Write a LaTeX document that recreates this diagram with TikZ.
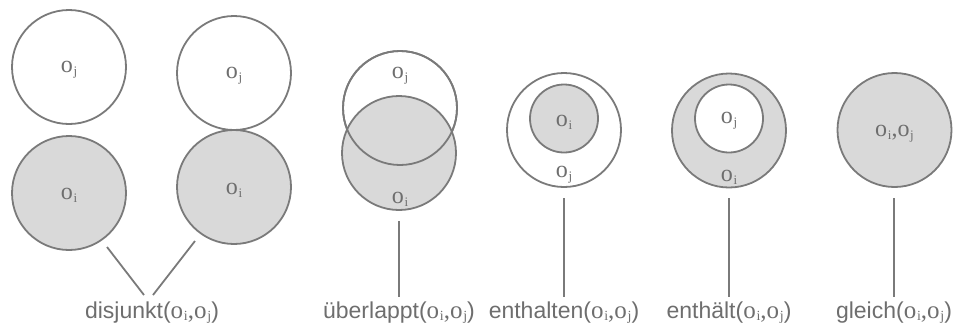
\documentclass[tikz,border=0pt]{standalone}
\usepackage{fontspec}
\setmainfont{Liberation Sans}
\newfontfamily\serifo{Liberation Serif}
\definecolor{strk}{HTML}{7A7A7A}
\definecolor{fillg}{HTML}{D9D9D9}
\definecolor{txt}{HTML}{6E6E6E}
% o with subscript, inside circles
\newcommand\ox[1]{{\serifo\fontsize{24}{24}\selectfont o\kern0.03em\raisebox{-0.12em}{\fontsize{13}{13}\selectfont #1}}}
% pair for relation labels
\newcommand\oxs[1]{o\kern0.03em\raisebox{-0.1em}{\fontsize{14}{14}\selectfont #1}}
\newcommand\opair{{\serifo\fontsize{25}{25}\selectfont\oxs{i},\oxs{j}}}
\begin{document}
\begin{tikzpicture}[x=1pt,y=-1pt,
  circ/.style={circle, draw=strk, line width=1.8pt, minimum size=114pt, inner sep=0pt, fill=white},
  small/.style={circle, draw=strk, line width=1.8pt, minimum size=68pt, inner sep=0pt},
  filled/.style={fill=fillg},
  olab/.style={text=txt, inner sep=0pt, font=\serifo\fontsize{24}{24}\selectfont},
  rlab/.style={text=txt, inner sep=0pt, anchor=base, font=\fontsize{23}{27}\selectfont},
  conn/.style={draw=strk, line width=1.8pt}]
\useasboundingbox (0,0) rectangle (954,333);
% disjunkt
\node[circ] (d1j) at (69,67) {};
\node[circ,filled] (d1i) at (69,193) {};
\node[circ] (d2j) at (234,73) {};
\node[circ,filled] (d2i) at (234,187) {};
\node[olab] (d1jl) at (69,70) {\ox{j}};
\node[olab] (d1il) at (69,195) {\ox{i}};
\node[olab] (d2jl) at (234,76) {\ox{j}};
\node[olab] (d2il) at (234,190) {\ox{i}};
% ueberlappt
\node[circ] (ovj) at (400,108) {};
\node[circ,filled] (ovi) at (399,153) {};
\node[circ,fill=none] (ovjo) at (400,108) {};
\node[olab] (ovjl) at (400,76) {\ox{j}};
\node[olab] (ovil) at (400,199) {\ox{i}};
% enthalten
\node[circ] (e1j) at (564,130) {};
\node[small,filled] (e1i) at (564,118.5) {};
\node[olab] (e1il) at (564,122) {\ox{i}};
\node[olab] (e1jl) at (564,175) {\ox{j}};
% enthaelt
\node[circ,filled] (e2i) at (729,130.5) {};
\node[small,fill=white] (e2j) at (729,118.5) {};
\node[olab] (e2jl) at (729,121) {\ox{j}};
\node[olab] (e2il) at (729,177) {\ox{i}};
% gleich
\node[circ,filled] (gl) at (894.5,130) {};
\node[olab] (gll) at (894.5,134) {\ox{i},\ox{j}};
% relation labels
\node[rlab] (rd) at (152,318) {disjunkt(\opair)};
\node[rlab] (ro) at (399,318) {überlappt(\opair)};
\node[rlab] (re1) at (564,318) {enthalten(\opair)};
\node[rlab] (re2) at (729,318) {enthält(\opair)};
\node[rlab] (rg) at (894,318) {gleich(\opair)};
% connectors
\coordinate (a1) at (107,247);
\coordinate (a2) at (144,295);
\coordinate (b1) at (195,241);
\coordinate (b2) at (153,295);
\draw[conn] (a1) -- (a2);
\draw[conn] (b1) -- (b2);
\coordinate (c1) at (399,221);
\coordinate (c2) at (399,297);
\draw[conn] (c1) -- (c2);
\coordinate (e1a) at (564,198);
\coordinate (e1b) at (564,297);
\draw[conn] (e1a) -- (e1b);
\coordinate (e2a) at (729,198);
\coordinate (e2b) at (729,297);
\draw[conn] (e2a) -- (e2b);
\coordinate (g1) at (894,198);
\coordinate (g2) at (894,297);
\draw[conn] (g1) -- (g2);
\end{tikzpicture}
\end{document}
